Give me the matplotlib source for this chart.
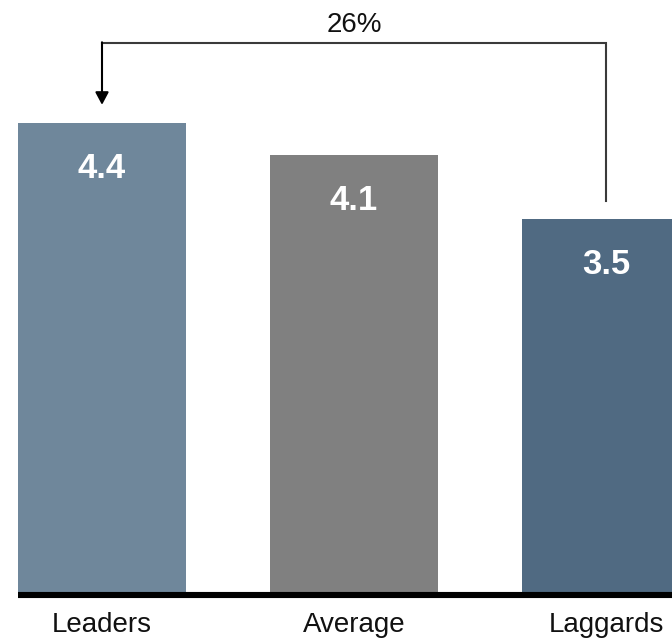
import matplotlib
matplotlib.use("Agg")
import matplotlib.pyplot as plt

plt.rcParams['font.family'] = ['Liberation Sans', 'DejaVu Sans']

# maturity score by group
groups = ["Leaders", "Average", "Laggards"]
scores = [4.4, 4.1, 3.5]
bar_colors = ["#6f879b", "#808080", "#506a82"]

W, H, DPI = 672, 641, 100
fig = plt.figure(figsize=(W / DPI, H / DPI), dpi=DPI)
# axes bottom sits on the baseline, top at the figure edge
ax = fig.add_axes([0, (H - 592) / H, 1, 592 / H])

px_per_unit = 106.6
ax.set_ylim(0, 592 / px_per_unit)
ax.set_xlim(-102 / 252, 2 + 66 / 252)

x = list(range(len(groups)))
ax.bar(x, scores, width=2 / 3, color=bar_colors, zorder=2)

# thick black baseline under the bars
ax.plot([-1 / 3, 3], [-0.03, -0.03], color="black", lw=4.4,
        solid_capstyle="butt", clip_on=False, zorder=3)

for i, (g, s) in enumerate(zip(groups, scores)):
    ax.annotate(f"{s:.1f}", xy=(i, s), xytext=(0, -39.6), textcoords="offset points",
                ha="center", va="baseline", color="white", fontsize=25,
                fontweight="bold", zorder=4)
    ax.annotate(g, xy=(i, 0), xytext=(0, -28.8), textcoords="offset points",
                ha="center", va="baseline", color="#111111", fontsize=20,
                annotation_clip=False)

# bracket from laggards back to leaders with the gap
gap = (scores[0] - scores[-1]) / scores[-1]
top = 5.15
line_col = "#3a3a3a"
ax.plot([2, 2, 0], [scores[-1] + 0.17, top, top], color=line_col, lw=1.5,
        solid_joinstyle="miter", zorder=3)
ax.annotate("", xy=(0, scores[0] + 0.17), xytext=(0, top + 0.007),
            arrowprops=dict(arrowstyle="-|>,head_length=0.75,head_width=0.4",
                            color="black", lw=1.5, shrinkA=0, shrinkB=0))
ax.annotate(f"{gap:.0%}", xy=(1, top), xytext=(0, 8), textcoords="offset points",
            ha="center", va="baseline", fontsize=20, color="#111111")

ax.axis("off")
fig.savefig("out.png", dpi=DPI)
